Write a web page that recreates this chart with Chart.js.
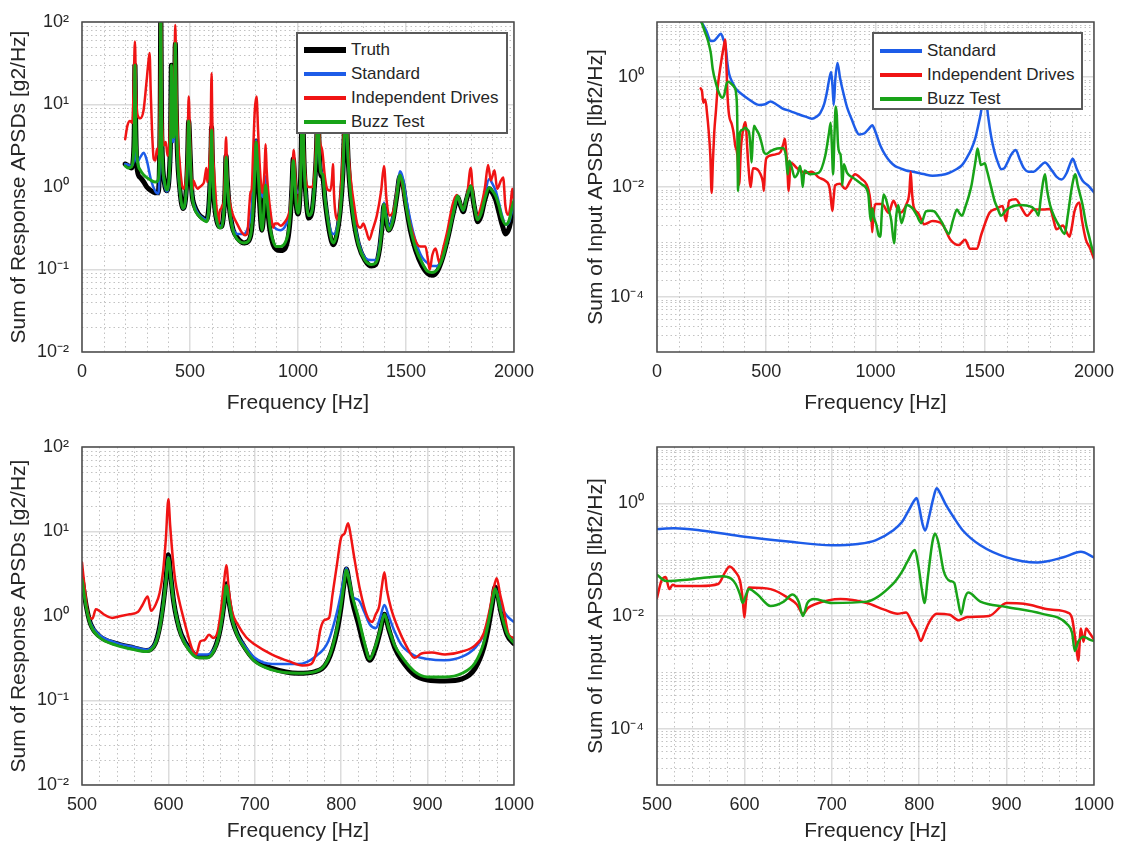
<!DOCTYPE html>
<html>
<head>
<meta charset="utf-8">
<script src="https://cdn.jsdelivr.net/npm/chart.js@4.4.1/dist/chart.umd.min.js"></script>
<style>
html,body{margin:0;padding:0;background:#fff;}
#wrap{position:relative;width:1125px;height:848px;overflow:hidden;background:#fff;font-family:"Liberation Sans",Arial,Helvetica,sans-serif;}
canvas{position:absolute;}
.legend{position:absolute;background:#fff;border:2px solid #5a5a5a;box-sizing:border-box;color:#262626;font-size:17px;}
.lg-row{position:absolute;left:6px;height:20px;display:flex;align-items:center;white-space:nowrap;}
.lg-line{display:inline-block;width:42px;margin-right:5px;}
</style>
</head>
<body>
<div id="wrap">
  <canvas id="tl" width="545" height="424" style="left:0;top:0"></canvas>
  <canvas id="tr" width="560" height="424" style="left:565px;top:0"></canvas>
  <canvas id="bl" width="545" height="424" style="left:0;top:424px"></canvas>
  <canvas id="br" width="560" height="424" style="left:565px;top:424px"></canvas>
</div>
<script>
// ---------- tick / label data ----------
const xTicksWide = [0, 500, 1000, 1500, 2000];
const xTicksZoom = [500, 600, 700, 800, 900, 1000];
const yExpsResponse = [2, 1, 0, -1, -2];
const yExpsInput = [0, -2, -4];
const seriesNames = ['Truth', 'Standard', 'Independent Drives', 'Buzz Test'];

// ---------- top-left: response, 0-2000 Hz ----------
const tlFreq = [200,215,228,238,242,245,249,256,270,286,
300,320,340,352,358,362,365,368,373,380,
392,404,410,414,418,424,429,432,436,442,
452,467,480,488,494,500,505,510,520,540,
560,575,585,592,597,600,603,608,615,625,
635,645,655,662,667,672,680,690,700,720,
750,770,785,795,802,806,812,820,833,842,
850,858,870,885,900,920,940,955,965,972,
978,985,992,1000,1008,1015,1020,1026,1035,1050,
1065,1078,1086,1092,1098,1106,1115,1125,1140,1155,
1165,1178,1195,1208,1216,1222,1228,1238,1255,1280,
1310,1340,1360,1378,1390,1398,1406,1420,1440,1458,
1472,1485,1500,1520,1545,1575,1600,1620,1645,1670,
1695,1720,1740,1752,1765,1780,1800,1815,1832,1848,
1865,1885,1900,1915,1930,1945,1962,1978,1990,2000];
const tlTruth = [1.9,1.8,1.7,2.3,5,30,5,1.6,1.3,1.15,
1.0,0.9,0.85,0.85,1.5,8,150,8,2,1.2,
0.9,1.4,4,30,6,4,12,55,10,2.5,
1.0,0.55,0.75,1.8,6.3,2.8,1.3,0.8,0.6,0.47,
0.42,0.4,0.5,1.0,2.5,5.3,2.5,1.0,0.55,0.38,
0.33,0.33,0.45,0.9,2.4,1.3,0.65,0.4,0.3,0.24,
0.21,0.22,0.3,0.7,2.0,3.6,2.0,0.8,0.3,0.5,
1.05,0.6,0.3,0.2,0.175,0.17,0.18,0.25,0.45,1.0,
2.2,1.2,0.6,0.47,0.7,2.5,25,3,0.9,0.42,
0.5,1.2,3,12,3,1.4,1.3,0.7,0.35,0.22,
0.2,0.25,0.5,1.5,6,20,4,1.2,0.45,0.2,
0.13,0.11,0.115,0.18,0.35,0.6,0.45,0.3,0.4,0.8,
1.35,1.1,0.6,0.3,0.17,0.11,0.09,0.085,0.095,0.14,
0.25,0.5,0.75,0.6,0.5,0.7,1.0,0.6,0.38,0.45,
0.7,0.95,0.85,0.7,0.5,0.35,0.27,0.32,0.45,0.6];
const tlStandard = [1.9,1.85,1.8,2.0,3,6,2.5,2.0,2.3,2.6,
2.1,1.2,0.88,0.83,1.3,6,150,6,1.8,1.15,
0.88,1.3,3.5,25,5,3.5,10,45,8,2.4,
0.95,0.55,0.72,1.7,6,2.7,1.3,0.8,0.6,0.47,
0.42,0.4,0.5,1.0,2.4,5.0,2.4,1.0,0.55,0.38,
0.34,0.34,0.45,0.9,2.3,1.3,0.66,0.42,0.31,0.27,
0.27,0.33,0.5,1.2,2.6,3.7,2.2,1.5,0.8,0.75,
1.35,0.85,0.45,0.34,0.31,0.3,0.33,0.42,0.6,1.1,
2.1,1.3,0.95,0.85,0.9,2.5,25,3,1.0,0.45,
0.52,1.2,3,12,3,1.6,1.4,0.75,0.4,0.28,
0.27,0.3,0.55,1.5,6,20,4,1.3,0.5,0.22,
0.14,0.13,0.13,0.2,0.4,0.65,0.5,0.33,0.45,0.9,
1.55,1.3,0.75,0.4,0.22,0.14,0.12,0.11,0.11,0.15,
0.26,0.5,0.75,0.62,0.52,0.72,1.0,0.62,0.42,0.5,
0.8,1.25,1.1,0.9,0.65,0.45,0.35,0.38,0.5,0.65];
const tlBuzz = [1.8,1.7,1.75,2.4,5,30,5.5,2.2,1.6,1.4,
1.3,1.2,1.15,1.2,2.0,8,150,8,2,1.25,
0.92,1.4,4,30,6,4,12,55,10,2.5,
1.0,0.55,0.75,1.8,6.3,2.8,1.25,0.78,0.56,0.45,
0.4,0.38,0.47,1.0,2.4,4.9,2.4,1.0,0.55,0.38,
0.32,0.32,0.44,0.9,2.3,1.3,0.64,0.39,0.29,0.23,
0.21,0.22,0.31,0.75,2.0,3.5,2.1,0.95,0.3,0.52,
1.05,0.65,0.33,0.22,0.19,0.19,0.21,0.28,0.5,1.0,
2.1,1.2,0.62,0.48,0.7,2.5,25,3,0.9,0.45,
0.52,1.2,3,12,3,1.5,1.4,0.72,0.37,0.23,
0.21,0.26,0.5,1.5,6,20,4,1.2,0.45,0.2,
0.13,0.115,0.12,0.18,0.35,0.62,0.45,0.3,0.4,0.8,
1.4,1.1,0.6,0.32,0.18,0.12,0.095,0.092,0.1,0.14,
0.25,0.5,0.78,0.62,0.52,0.72,1.03,0.62,0.4,0.48,
0.72,0.98,0.9,0.78,0.6,0.42,0.35,0.4,0.55,0.69];
const tlIndepFreq = [200,210,222,233,239,245,250,257,270,285,
298,306,313,318,324,332,340,347,353,359,
365,371,380,388,396,405,412,418,422,428,
432,436,442,452,462,472,482,489,494,499,
505,508,512,516,525,535,545,555,565,572,
576,580,585,591,595,600,603,607,612,620,
628,632,637,645,650,656,661,667,672,680,
690,700,720,740,755,765,775,780,786,792,
800,808,815,822,830,836,840,845,847,850,
855,862,875,885,893,905,920,940,955,965,
973,980,988,995,1000,1008,1015,1020,1026,1035,
1050,1065,1078,1086,1092,1100,1112,1125,1135,1150,
1158,1162,1167,1175,1185,1198,1210,1222,1230,1245,
1260,1275,1290,1302,1315,1330,1345,1365,1385,1398,
1410,1425,1445,1460,1472,1485,1500,1520,1545,1565,
1590,1602,1610,1622,1637,1655,1672,1690,1715,1735,
1750,1765,1782,1800,1812,1830,1850,1866,1880,1893,
1910,1922,1940,1950,1960,1972,1984,1992,2000];
const tlIndep = [3.8,5.5,6.3,6,15,58,15,7.5,6.8,8.5,
18,30,42,15,5,2.2,2.1,2.9,2.5,6,
150,6,3.2,3.5,2.4,3.5,12,20,9,25,
92,20,5,2,1.1,0.95,1.3,3,12.5,5,
1.5,1.0,0.92,1.2,1.05,0.95,1.0,1.05,1.15,1.5,
1.7,1.15,1.4,2.2,4,24,7,2.5,1.5,0.7,
0.4,0.35,0.5,0.55,0.6,0.65,1.3,4.0,1.4,0.78,
0.56,0.45,0.35,0.28,0.26,0.27,0.6,0.85,0.95,2.5,
8.5,12.5,5,2.0,1.0,0.85,1.0,1.6,2.2,3.3,
1.6,0.9,0.45,0.32,0.36,0.36,0.34,0.38,0.45,0.6,
1.2,2.8,1.3,0.6,0.55,0.8,3,30,4,1.3,
1.0,1.0,1.6,5,15,4,2.8,1.3,0.95,0.9,
1.3,1.9,0.8,0.45,0.4,0.9,3.5,25,4,1.2,
0.6,0.35,0.32,0.36,0.3,0.23,0.3,0.45,0.9,1.8,
0.7,0.45,0.55,0.95,1.4,1.0,0.6,0.35,0.22,0.19,
0.19,0.13,0.1,0.15,0.18,0.12,0.18,0.28,0.6,0.8,
0.65,0.55,0.75,1.7,0.7,0.45,0.62,1.0,1.85,1.2,
1.6,0.95,1.2,1.3,0.6,0.46,0.6,0.95,0.7];

// ---------- top-right: input, 0-2000 Hz ----------
const trStdFreq = [200,225,247,262,275,292,304,315,322,330,
345,360,390,421,467,495,520,545,573,610,
648,680,709,730,747,765,777,788,797,803,
809,816,826,838,853,870,891,910,925,950,
970,985,1000,1022,1045,1067,1090,1112,1140,1172,
1220,1261,1300,1336,1370,1396,1420,1440,1458,1470,
1482,1492,1500,1508,1515,1530,1545,1560,1575,1590,
1604,1620,1642,1660,1679,1700,1724,1750,1776,1800,
1828,1851,1875,1890,1903,1920,1948,1975,2000];
const trStd = [10.5,7,4.5,4.6,5.2,6.1,4.8,3.4,1.8,1.15,
0.8,0.62,0.48,0.39,0.31,0.32,0.36,0.32,0.27,0.24,
0.21,0.19,0.175,0.19,0.22,0.32,0.51,0.9,1.23,0.7,
0.31,0.9,1.8,0.95,0.51,0.28,0.17,0.11,0.09,0.095,
0.115,0.133,0.1,0.057,0.038,0.029,0.024,0.022,0.02,0.019,
0.0172,0.016,0.0165,0.018,0.021,0.025,0.035,0.05,0.08,0.13,
0.22,0.4,0.6,0.35,0.2,0.08,0.043,0.028,0.021,0.022,
0.028,0.038,0.047,0.032,0.022,0.019,0.019,0.023,0.028,0.022,
0.0155,0.0137,0.018,0.026,0.0325,0.022,0.013,0.0105,0.008];
const trIndepFreq = [200,206,212,221,230,236,244,250,256,262,
270,277,292,305,312,318,323,330,342,350,
358,368,376,384,398,406,412,418,429,439,
459,474,485,489,494,500,527,550,565,578,
585,590,595,603,611,641,679,709,739,770,
786,792,798,803,808,815,838,861,885,906,
936,960,972,980,985,990,1000,1030,1060,1082,
1100,1112,1142,1155,1161,1167,1175,1194,1224,1261,
1306,1343,1381,1410,1433,1463,1485,1522,1552,1582,
1597,1612,1642,1672,1694,1724,1769,1799,1815,1828,
1858,1875,1888,1900,1910,1933,1945,1963,1980,2000];
const trIndep = [0.62,0.55,0.34,0.39,0.2,0.11,0.038,0.0078,0.03,0.098,
0.25,0.6,1.7,3.5,4.8,1.5,0.44,0.2,0.14,0.1,
0.057,0.038,0.011,0.05,0.13,0.15,0.06,0.025,0.01,0.022,
0.021,0.017,0.012,0.0085,0.02,0.033,0.038,0.04,0.043,0.06,
0.075,0.05,0.028,0.0085,0.028,0.022,0.018,0.019,0.015,0.013,
0.011,0.0085,0.005,0.0037,0.006,0.0107,0.0115,0.0093,0.013,0.017,
0.014,0.011,0.0075,0.004,0.0015,0.003,0.0049,0.0049,0.0034,0.0056,
0.004,0.0034,0.0049,0.008,0.019,0.008,0.0043,0.0034,0.0021,0.0024,
0.0021,0.0011,0.00088,0.0011,0.00075,0.00075,0.0014,0.0034,0.004,0.0045,
0.0024,0.0056,0.006,0.0039,0.003,0.0039,0.0039,0.004,0.0025,0.0017,
0.002,0.0015,0.00125,0.002,0.0035,0.0052,0.0025,0.0011,0.0008,0.0005];
const trBuzzFreq = [200,220,232,240,247,255,270,285,298,308,
318,327,340,353,362,367,371,375,380,392,
406,414,421,427,433,438,444,455,467,480,
489,500,520,550,575,590,598,605,615,630,
645,655,662,667,675,700,740,770,787,795,
800,806,812,818,823,828,835,840,845,848,
855,870,900,940,967,978,985,993,1005,1015,
1022,1030,1037,1048,1060,1072,1085,1095,1104,1119,
1130,1142,1157,1172,1190,1209,1231,1250,1269,1290,
1306,1320,1336,1355,1373,1385,1396,1410,1425,1440,
1448,1458,1467,1475,1482,1492,1500,1510,1522,1535,
1545,1560,1575,1595,1619,1640,1664,1690,1716,1735,
1746,1756,1768,1776,1785,1799,1820,1843,1866,1880,
1896,1908,1915,1925,1948,1965,1978,1990,2000];
const trBuzz = [11,6.5,4.8,3.6,2.6,1.4,0.76,0.5,0.42,0.48,
0.75,0.82,0.75,0.66,0.5,0.2,0.0085,0.04,0.098,0.11,
0.12,0.11,0.1,0.06,0.028,0.07,0.13,0.11,0.09,0.06,
0.043,0.04,0.045,0.05,0.051,0.037,0.017,0.03,0.024,0.015,
0.018,0.024,0.016,0.01,0.02,0.017,0.018,0.037,0.095,0.148,
0.06,0.017,0.08,0.29,0.2,0.063,0.042,0.039,0.02,0.0107,
0.026,0.018,0.0145,0.011,0.0075,0.0024,0.0041,0.0028,0.002,0.0013,
0.00125,0.004,0.0073,0.006,0.0039,0.0025,0.00095,0.003,0.0047,0.0022,
0.003,0.0047,0.0045,0.004,0.003,0.0022,0.0036,0.0037,0.0036,0.0028,
0.0022,0.0017,0.0014,0.0025,0.0039,0.0033,0.003,0.0042,0.0064,0.011,
0.017,0.03,0.05,0.035,0.025,0.026,0.027,0.02,0.013,0.008,
0.0056,0.004,0.003,0.0037,0.0043,0.0046,0.0047,0.0046,0.0043,0.0036,
0.003,0.006,0.013,0.017,0.009,0.0047,0.0028,0.0019,0.0014,0.003,
0.0085,0.015,0.017,0.011,0.0047,0.002,0.00125,0.0008,0.0006];

// ---------- bottom-left: response, 500-1000 Hz ----------
const blFreq = [500,505,510,520,540,560,575,585,590,594,
597,600,603,606,610,615,625,635,645,655,
660,664,667,670,674,680,690,700,720,750,
770,785,795,800,803,806,809,813,820,827,
833,840,845,850,855,862,870,885,900,920,
940,955,965,970,975,978,981,985,992,1000];
const blTruth = [2.8,1.3,0.8,0.58,0.47,0.42,0.39,0.48,0.75,1.4,
2.6,5.3,2.8,1.5,0.9,0.6,0.4,0.33,0.33,0.45,
0.7,1.3,2.4,1.5,0.9,0.6,0.4,0.3,0.24,0.21,
0.22,0.3,0.65,1.3,2.3,3.6,2.6,1.5,0.8,0.42,
0.3,0.42,0.65,1.05,0.7,0.42,0.3,0.2,0.175,0.17,
0.18,0.24,0.42,0.7,1.4,2.2,1.8,1.1,0.6,0.47];
const blStandard = [2.8,1.3,0.82,0.6,0.48,0.43,0.4,0.49,0.75,1.4,
2.5,5.0,2.7,1.5,0.9,0.6,0.4,0.35,0.35,0.45,
0.7,1.3,2.3,1.5,0.9,0.6,0.42,0.32,0.27,0.27,
0.33,0.5,1.1,1.9,2.8,3.7,2.8,1.7,1.55,1.1,
0.8,0.72,0.95,1.35,1.0,0.65,0.45,0.34,0.31,0.3,
0.33,0.42,0.6,0.9,1.5,2.1,1.8,1.3,1.0,0.85];
const blBuzz = [2.7,1.25,0.78,0.56,0.45,0.4,0.38,0.47,0.72,1.35,
2.5,4.9,2.7,1.5,0.9,0.58,0.38,0.32,0.32,0.44,
0.7,1.3,2.3,1.5,0.9,0.58,0.39,0.29,0.23,0.21,
0.22,0.31,0.7,1.4,2.3,3.5,2.7,1.7,0.95,0.48,
0.31,0.45,0.68,1.05,0.72,0.45,0.33,0.22,0.19,0.19,
0.21,0.28,0.48,0.8,1.5,2.1,1.7,1.1,0.62,0.48];
const blIndepFreq = [500,503,506,509,512,516,520,525,535,545,
555,565,570,576,580,585,590,594,597,600,
602,605,608,612,620,627,632,637,642,647,
652,657,661,664,667,670,674,680,690,700,
720,740,755,765,772,776,781,786,790,795,
800,804,808,811,815,822,830,836,840,844,
847,850,853,858,865,875,885,893,905,920,
940,955,965,972,976,980,984,988,994,1000];
const blIndep = [4.3,2.2,1.2,0.95,0.93,1.2,1.15,1.05,0.95,1.0,
1.05,1.12,1.35,1.7,1.15,1.35,1.9,3.5,8,24,
12,5,2.6,1.6,0.75,0.42,0.35,0.5,0.52,0.6,
0.55,0.65,1.2,2.3,4.0,2.0,1.1,0.8,0.56,0.46,
0.35,0.29,0.26,0.27,0.4,0.7,0.9,0.95,1.8,4,
8.5,9.5,12.5,9,5,2.0,1.0,0.85,1.05,1.3,
2.2,3.3,2.0,1.2,0.75,0.45,0.32,0.36,0.37,0.35,
0.38,0.45,0.62,1.2,2.0,2.8,1.8,1.2,0.6,0.55];

// ---------- bottom-right: input, 500-1000 Hz ----------
const brStdFreq = [500,520,550,600,650,700,730,750,770,780,788,794,797,800,804,807,811,816,820,824,830,840,850,870,900,935,965,985,1000];
const brStd = [0.35,0.36,0.33,0.255,0.21,0.18,0.19,0.22,0.33,0.46,0.75,1.1,1.24,0.85,0.42,0.33,0.55,1.2,1.85,1.5,0.98,0.55,0.33,0.18,0.11,0.089,0.11,0.138,0.11];
const brIndepFreq = [500,505,510,514,518,522,550,570,578,583,
590,595,598,600,602,605,630,650,660,667,
673,680,710,740,760,775,785,792,797,802,
806,810,815,820,835,845,855,880,900,920,
950,970,975,979,982,985,988,991,995,1000];
const brIndep = [0.021,0.042,0.049,0.03,0.036,0.034,0.034,0.037,0.06,0.076,
0.06,0.042,0.02,0.0094,0.02,0.032,0.03,0.021,0.016,0.011,
0.014,0.016,0.02,0.017,0.013,0.011,0.0115,0.0075,0.0055,0.0036,
0.005,0.007,0.0095,0.011,0.0105,0.0084,0.0096,0.01,0.017,0.0165,
0.013,0.0115,0.009,0.0035,0.0016,0.006,0.0035,0.006,0.005,0.0038];
const brBuzzFreq = [500,510,540,575,585,590,595,598,602,605,
615,630,645,655,662,667,672,680,700,740,
770,780,787,795,799,803,806,810,815,818,
822,828,835,840,844,848,852,856,870,900,
940,970,975,978,982,988,995,1000];
const brBuzz = [0.054,0.042,0.045,0.051,0.046,0.037,0.024,0.017,0.024,0.03,
0.024,0.015,0.018,0.024,0.018,0.01,0.017,0.02,0.017,0.018,
0.037,0.06,0.095,0.148,0.08,0.03,0.017,0.05,0.2,0.29,
0.2,0.063,0.042,0.039,0.02,0.0107,0.02,0.026,0.018,0.0145,
0.011,0.007,0.005,0.0024,0.0035,0.0043,0.0038,0.0036];

// ---------- styling ----------
const FONT = '"Liberation Sans", Arial, Helvetica, sans-serif';
const TEXT = '#262626';
const COL = {truth:'#000000', standard:'#1d5ce8', indep:'#f01414', buzz:'#18a318'};
const SUP = {'-':'\u207B','0':'\u2070','1':'\u00B9','2':'\u00B2','3':'\u00B3','4':'\u2074','5':'\u2075'};
function decadeLabel(v){
  const e = Math.round(Math.log10(v));
  return '10' + String(e).split('').map(c => SUP[c]).join('');
}
function pts(freqs, vals){ return freqs.map((f, i) => ({x: f, y: vals[i]})); }
function ds(label, freqs, vals, color, width, order){
  return {label, data: pts(freqs, vals), borderColor: color, backgroundColor: color,
          borderWidth: width, order, clip: 0, pointRadius: 0, fill: false,
          cubicInterpolationMode: 'monotone', borderJoinStyle: 'round', borderCapStyle: 'round'};
}

const minorGridPlugin = {
  id: 'minorGrid',
  beforeDatasetsDraw(chart, args, o){
    const {ctx, chartArea: a} = chart; const xs = chart.scales.x, ys = chart.scales.y;
    ctx.save();
    ctx.beginPath(); ctx.rect(a.left, a.top, a.right - a.left, a.bottom - a.top); ctx.clip();
    ctx.strokeStyle = '#c2c2c2'; ctx.lineWidth = 1; ctx.setLineDash([1.5, 3]);
    ctx.beginPath();
    const n = Math.round((xs.max - xs.min) / o.xStep);
    for (let k = 1; k < n; k++){
      const v = xs.min + k * o.xStep;
      if ((v - xs.min) % o.xMajor === 0) continue;
      const px = Math.round(xs.getPixelForValue(v)) + 0.5;
      ctx.moveTo(px, a.top); ctx.lineTo(px, a.bottom);
    }
    const e0 = Math.round(Math.log10(ys.min)), e1 = Math.round(Math.log10(ys.max));
    for (let e = e0; e < e1; e++){
      for (let m = 1; m <= 9; m++){
        if (m === 1 && (e === e0 || o.majorExps.includes(e))) continue;
        const py = Math.round(ys.getPixelForValue(m * Math.pow(10, e))) + 0.5;
        ctx.moveTo(a.left, py); ctx.lineTo(a.right, py);
      }
    }
    ctx.stroke(); ctx.restore();
  }
};
const framePlugin = {
  id: 'frame',
  afterDatasetsDraw(chart){
    const {ctx, chartArea: a} = chart;
    ctx.save(); ctx.strokeStyle = '#4a4a4a'; ctx.lineWidth = 1.5;
    ctx.strokeRect(a.left, a.top, a.right - a.left, a.bottom - a.top); ctx.restore();
  }
};

function buildChart(id, p){
  return new Chart(document.getElementById(id), {
    type: 'line',
    data: {datasets: p.datasets},
    options: {
      responsive: false, animation: false, devicePixelRatio: 1,
      layout: {padding: {top: p.padTop, right: p.padRight, left: 0, bottom: 0}},
      plugins: {legend: {display: false}, tooltip: {enabled: false},
                minorGrid: {xStep: p.xMinor, xMajor: p.xMajor, majorExps: p.yExps}},
      scales: {
        x: {type: 'linear', min: p.xMin, max: p.xMax,
            afterFit: s => { s.height = p.xAxisH; },
            afterBuildTicks: s => { s.ticks = p.xTicks.map(v => ({value: v})); },
            ticks: {callback: v => String(v), font: {family: FONT, size: 18, lineHeight: 1}, color: TEXT, padding: 11, maxRotation: 0, autoSkip: false},
            grid: {color: '#dcdcdc', lineWidth: 1.5, drawTicks: false},
            border: {display: false},
            title: {display: true, text: 'Frequency [Hz]', color: TEXT,
                    font: {family: FONT, size: 21, lineHeight: 1}, padding: {top: 0, bottom: p.xTitlePad}}},
        y: {type: 'logarithmic', min: p.yMin, max: p.yMax,
            afterFit: s => { s.width = p.yAxisW; },
            afterBuildTicks: s => { s.ticks = p.yExps.map(e => ({value: Math.pow(10, e)})); },
            ticks: {callback: v => decadeLabel(v), font: {family: FONT, size: 18, lineHeight: 1}, color: TEXT, padding: 13, autoSkip: false},
            grid: {color: '#dcdcdc', lineWidth: 1.5, drawTicks: false},
            border: {display: false},
            title: {display: true, text: p.yTitle, color: TEXT,
                    font: {family: FONT, size: 21, lineHeight: 1}, padding: {top: p.yTitlePad, bottom: 0}}}
      }
    },
    plugins: [minorGridPlugin, framePlugin]
  });
}

function htmlLegend(chart, box){
  const el = document.createElement('div'); el.className = 'legend';
  Object.assign(el.style, {left: box.left + 'px', top: box.top + 'px', width: box.width + 'px', height: box.height + 'px'});
  chart.data.datasets.forEach((d, i) => {
    const row = document.createElement('div'); row.className = 'lg-row';
    row.style.top = (box.firstRow + i * 24 - 10) + 'px';
    const sw = document.createElement('span'); sw.className = 'lg-line';
    sw.style.background = d.borderColor; sw.style.height = Math.min(d.borderWidth + 1, 6) + 'px';
    const tx = document.createElement('span'); tx.textContent = d.label;
    row.appendChild(sw); row.appendChild(tx); el.appendChild(row);
  });
  document.getElementById('wrap').appendChild(el);
}

const respTitle = 'Sum of Response APSDs [g2/Hz]';
const inputTitle = 'Sum of Input APSDs [lbf2/Hz]';

const tl = buildChart('tl', {
  datasets: [
    ds(seriesNames[0], tlFreq, tlTruth, COL.truth, 5, 4),
    ds(seriesNames[1], tlFreq, tlStandard, COL.standard, 2.5, 3),
    ds(seriesNames[2], tlIndepFreq, tlIndep, COL.indep, 2.5, 2),
    ds(seriesNames[3], tlFreq, tlBuzz, COL.buzz, 3, 1)
  ],
  xMin: 0, xMax: 2000, xTicks: xTicksWide, xMinor: 100, xMajor: 500,
  yMin: 1e-2, yMax: 1e2, yExps: yExpsResponse, yTitle: respTitle,
  padTop: 14, padRight: 22, yAxisW: 82, xAxisH: 72, xTitlePad: 10.5, yTitlePad: 8.5
});
const tr = buildChart('tr', {
  datasets: [
    ds(seriesNames[1], trStdFreq, trStd, COL.standard, 2.5, 3),
    ds(seriesNames[2], trIndepFreq, trIndep, COL.indep, 2.5, 2),
    ds(seriesNames[3], trBuzzFreq, trBuzz, COL.buzz, 2.5, 1)
  ],
  xMin: 0, xMax: 2000, xTicks: xTicksWide, xMinor: 100, xMajor: 500,
  yMin: 1e-5, yMax: 1e1, yExps: yExpsInput, yTitle: inputTitle,
  padTop: 14, padRight: 26, yAxisW: 92, xAxisH: 72, xTitlePad: 10.5, yTitlePad: 20.5
});
const bl = buildChart('bl', {
  datasets: [
    ds(seriesNames[0], blFreq, blTruth, COL.truth, 5, 4),
    ds(seriesNames[1], blFreq, blStandard, COL.standard, 2.5, 3),
    ds(seriesNames[2], blIndepFreq, blIndep, COL.indep, 2.5, 2),
    ds(seriesNames[3], blFreq, blBuzz, COL.buzz, 3, 1)
  ],
  xMin: 500, xMax: 1000, xTicks: xTicksZoom, xMinor: 20, xMajor: 100,
  yMin: 1e-2, yMax: 1e2, yExps: yExpsResponse, yTitle: respTitle,
  padTop: 23, padRight: 22, yAxisW: 82, xAxisH: 63, xTitlePad: 6.5, yTitlePad: 8.5
});
const br = buildChart('br', {
  datasets: [
    ds(seriesNames[1], brStdFreq, brStd, COL.standard, 2.5, 3),
    ds(seriesNames[2], brIndepFreq, brIndep, COL.indep, 2.5, 2),
    ds(seriesNames[3], brBuzzFreq, brBuzz, COL.buzz, 2.5, 1)
  ],
  xMin: 500, xMax: 1000, xTicks: xTicksZoom, xMinor: 20, xMajor: 100,
  yMin: 1e-5, yMax: 1e1, yExps: yExpsInput, yTitle: inputTitle,
  padTop: 23, padRight: 26, yAxisW: 92, xAxisH: 63, xTitlePad: 6.5, yTitlePad: 20.5
});

htmlLegend(tl, {left: 296, top: 32, width: 212, height: 102, firstRow: 16});
htmlLegend(tr, {left: 872, top: 32, width: 211, height: 78, firstRow: 17});
</script>
</body>
</html>
